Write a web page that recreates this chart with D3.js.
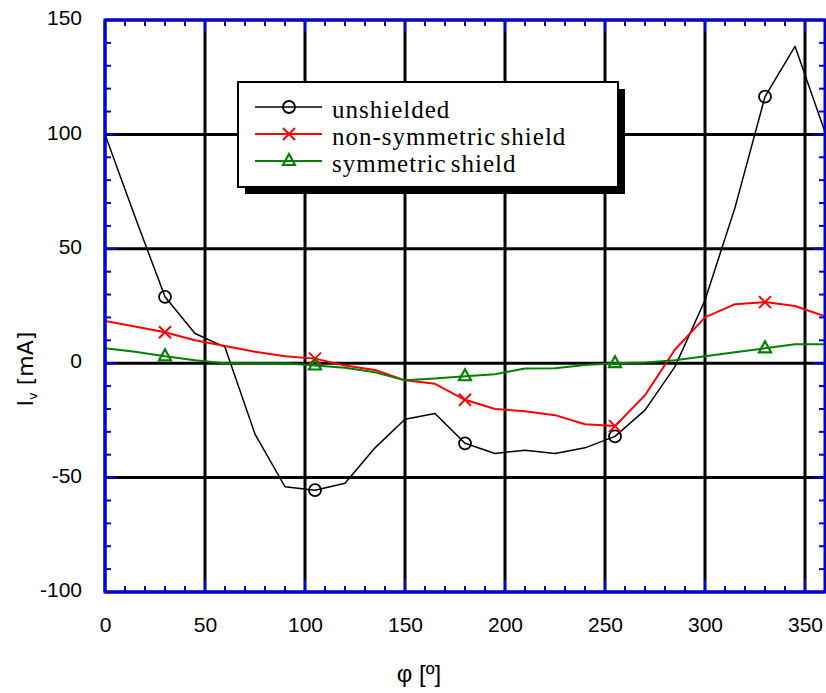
<!DOCTYPE html>
<html>
<head>
<meta charset="utf-8">
<script src="https://cdn.jsdelivr.net/npm/d3@7"></script>
<style>
  body { margin:0; background:#fff; }
  text { font-family: "Liberation Sans", Arial, sans-serif; }
</style>
</head>
<body>
<script>

//******************************************************************************
// Data ************************************************************************

    var angles = [0,15,30,45,60,75,90,105,120,135,150,165,180,195,210,225,240,255,270,285,300,315,330,345,360];

    var unshielded   = [100,64,29,13,7,-31,-54,-55.5,-52.5,-37,-24.5,-22,-35,-39.5,-38,-39.5,-37,-32,-20.5,-1.5,27.5,68,116.5,138.5,101];
    var nonSymmetric = [18.5,16,13.5,10,7.5,5,3,2,-1,-3,-7.5,-9,-16,-20,-21,-22.7,-26.7,-27.5,-14,6,20,25.8,26.7,25,20.5];
    var symmetric    = [6.5,5,3,1.3,0,0,0,-1,-2,-4,-7.5,-6.7,-5.7,-4.8,-2.3,-2.2,-0.8,0,0.3,1.3,3,4.8,6.5,8.3,8.3];

    var markerAngles = [30,105,180,255,330]; // markers shown only on these points

    var seriesNames = ["unshielded","non-symmetric shield","symmetric shield"];

    var xTicks = [0,50,100,150,200,250,300,350];
    var yTicks = [-100,-50,0,50,100,150];


//******************************************************************************
// Variables *******************************************************************

    var graphSettings = {
        width : 826,
        height : 693,

        left : 105,//px
        right : 825,//px
        top : 20,//px
        bottom : 592,//px

        frameColor : "#0000e0",
        gridColor : "#000",
    };

    var seriesStyle = [
        {color:"#000",    width:1.5, marker:"circle"},
        {color:"#ff0000", width:2,   marker:"cross"},
        {color:"#008000", width:2,   marker:"triangle"},
    ];


//******************************************************************************
// Initialization **************************************************************

    var svg = d3.select("body").append("svg")
        .attr("width", graphSettings.width)
        .attr("height", graphSettings.height);

    var x = d3.scaleLinear().domain([0,360]).range([graphSettings.left, graphSettings.right]);
    var y = d3.scaleLinear().domain([-100,150]).range([graphSettings.bottom, graphSettings.top]);


//******************************************************************************
// Prog ************************************************************************

    drawGrid();
    drawSeries();
    drawFrame();
    drawLabels();
    drawLegend();


//******************************************************************************
// Functions *******************************************************************

    function drawGrid(){ // thick black grid every 50
        var g = svg.append("g");
        xTicks.forEach(function(t){
            g.append("line")
              .attr("x1", x(t)).attr("x2", x(t))
              .attr("y1", graphSettings.top).attr("y2", graphSettings.bottom)
              .style("stroke", graphSettings.gridColor).style("stroke-width", 3);
        });
        yTicks.forEach(function(t){
            g.append("line")
              .attr("x1", graphSettings.left).attr("x2", graphSettings.right)
              .attr("y1", y(t)).attr("y2", y(t))
              .style("stroke", graphSettings.gridColor).style("stroke-width", 3);
        });
    }


    function drawSeries(){
        var all = [unshielded, nonSymmetric, symmetric];
        svg.append("clipPath").attr("id","plotClip")
            .append("rect")
            .attr("x", graphSettings.left).attr("y", graphSettings.top)
            .attr("width", graphSettings.right-graphSettings.left)
            .attr("height", graphSettings.bottom-graphSettings.top);

        var line = d3.line()
            .x(function(d){ return x(d[0]); })
            .y(function(d){ return y(d[1]); });

        all.forEach(function(vals, i){
            var pts = angles.map(function(a,k){ return [a, vals[k]]; });
            svg.append("path")
              .datum(pts)
              .attr("clip-path","url(#plotClip)")
              .attr("d", line)
              .attr("fill","none")
              .attr("stroke", seriesStyle[i].color)
              .attr("stroke-width", seriesStyle[i].width)
              .attr("stroke-linejoin","round");

            pts.filter(function(p){ return markerAngles.indexOf(p[0]) >= 0; })
              .forEach(function(p){
                  addMarker(svg, seriesStyle[i], x(p[0]), y(p[1]));
              });
        });
    }


    function addMarker(g, st, cx, cy){ // circle / cross / triangle
        if(st.marker == "circle"){
            g.append("circle").attr("cx",cx).attr("cy",cy).attr("r",6)
              .attr("fill","none").attr("stroke",st.color).attr("stroke-width",1.8);
        }else if(st.marker == "cross"){
            var s = 6;
            g.append("path")
              .attr("d","M"+(cx-s)+","+(cy-s)+"L"+(cx+s)+","+(cy+s)+"M"+(cx-s)+","+(cy+s)+"L"+(cx+s)+","+(cy-s))
              .attr("stroke",st.color).attr("stroke-width",2);
        }else{
            var h = 6;
            g.append("path")
              .attr("d","M"+cx+","+(cy-h-1)+"L"+(cx+h)+","+(cy+h-2)+"L"+(cx-h)+","+(cy+h-2)+"Z")
              .attr("fill","none").attr("stroke",st.color).attr("stroke-width",2.2);
        }
    }


    function drawFrame(){ // blue frame with inward ticks
        var g = svg.append("g");
        var c = graphSettings.frameColor;

        x.ticks(36).forEach(function(t){
            var len = (t % 50 == 0) ? 12 : 6;
            g.append("line").attr("x1",x(t)).attr("x2",x(t))
              .attr("y1",graphSettings.bottom).attr("y2",graphSettings.bottom-len)
              .style("stroke",c).style("stroke-width",2);
            g.append("line").attr("x1",x(t)).attr("x2",x(t))
              .attr("y1",graphSettings.top).attr("y2",graphSettings.top+len)
              .style("stroke",c).style("stroke-width",2);
        });
        y.ticks(25).forEach(function(t){
            var len = (t % 50 == 0) ? 12 : 6;
            g.append("line").attr("y1",y(t)).attr("y2",y(t))
              .attr("x1",graphSettings.left).attr("x2",graphSettings.left+len)
              .style("stroke",c).style("stroke-width",2);
            g.append("line").attr("y1",y(t)).attr("y2",y(t))
              .attr("x1",graphSettings.right).attr("x2",graphSettings.right-len)
              .style("stroke",c).style("stroke-width",2);
        });

        g.append("rect")
          .attr("x",graphSettings.left).attr("y",graphSettings.top)
          .attr("width",graphSettings.right-graphSettings.left)
          .attr("height",graphSettings.bottom-graphSettings.top)
          .attr("fill","none").attr("stroke",c).attr("stroke-width",3);
    }


    function drawLabels(){ // tick labels + axis titles
        var fmt = function(d){ return String(d); }; // plain hyphen minus

        var xAxis = svg.append("g")
            .attr("transform","translate(0,"+(graphSettings.bottom+25)+")")
            .call(d3.axisBottom(x).tickValues(xTicks).tickFormat(fmt).tickSize(0).tickPadding(0));
        xAxis.select(".domain").remove();
        xAxis.selectAll("text").attr("dy","0.71em").style("font-size","21px")
            .style("font-family","'Liberation Sans', Arial, sans-serif").attr("fill","#000");

        var yAxis = svg.append("g")
            .attr("transform","translate("+(graphSettings.left-23)+",-2)")
            .call(d3.axisLeft(y).tickValues(yTicks).tickFormat(fmt).tickSize(0).tickPadding(0));
        yAxis.select(".domain").remove();
        yAxis.selectAll("text").style("font-size","21px")
            .style("font-family","'Liberation Sans', Arial, sans-serif").attr("fill","#000");

        svg.append("text")
          .attr("x", 419)
          .attr("y", 682)
          .attr("text-anchor","middle")
          .style("font-size","24px")
          .text("φ [º]");

        var yt = svg.append("text")
          .attr("transform","translate(33,369) rotate(-90)")
          .attr("text-anchor","middle")
          .style("font-family","'DejaVu Sans', sans-serif")
          .style("font-size","22px");
        yt.append("tspan").text("I");
        yt.append("tspan").attr("dy",4).style("font-size","13px").text("v");
        yt.append("tspan").attr("dy",-4).text(" [mA]");
    }


    function drawLegend(){
        var bx = 238, by = 82, bw = 380, bh = 105;
        var g = svg.append("g");

        g.append("rect").attr("x",bx+7).attr("y",by+7).attr("width",bw).attr("height",bh)
          .attr("fill","#000");
        g.append("rect").attr("x",bx).attr("y",by).attr("width",bw).attr("height",bh)
          .attr("fill","#fff").attr("stroke","#000").attr("stroke-width",2);

        seriesNames.forEach(function(name, i){
            var ly = by + 25 + i*27;
            var st = seriesStyle[i];
            g.append("line").attr("x1",bx+17).attr("x2",bx+84).attr("y1",ly).attr("y2",ly)
              .attr("stroke",st.color).attr("stroke-width",st.width);
            addMarker(g, st, bx+51, ly);
            g.append("text").attr("x",bx+94).attr("y",ly+11)
              .style("font-family","'Liberation Serif', 'Times New Roman', serif")
              .style("font-size","25px")
              .style("letter-spacing","1px")
              .style("word-spacing","-3px")
              .text(name);
        });
    }

</script>
</body>
</html>
